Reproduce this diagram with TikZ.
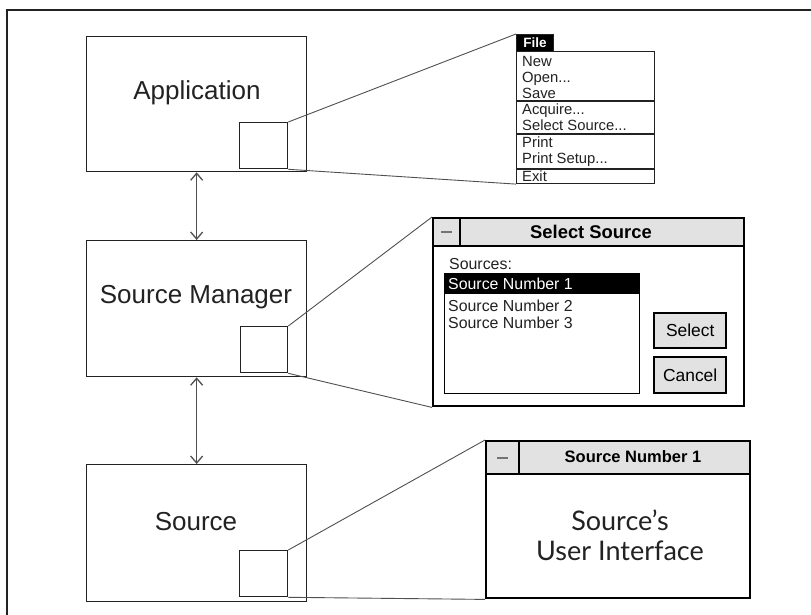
\documentclass[tikz,border=0pt]{standalone}
\usepackage{fontspec}
\setmainfont{Liberation Sans}
\newfontfamily\handfont{Lato}
\usetikzlibrary{arrows.meta}
\definecolor{barfill}{HTML}{E2E2E2}
\definecolor{linkgray}{HTML}{505050}
\definecolor{inkgray}{HTML}{222222}
\tikzset{
  blockbox/.style={draw=inkgray, line width=1.3pt, inner sep=0pt, anchor=north west},
  blocklabel/.style={font=\fontsize{26}{30}\selectfont, text=inkgray, inner sep=0pt},
  iconbox/.style={draw=inkgray, line width=1.3pt, inner sep=0pt, anchor=north west},
  link/.style={draw=linkgray, line width=0.9pt},
  dbl/.style={draw=linkgray, line width=1.2pt,
    {Straight Barb[length=7pt,width=12pt,line width=1.3pt]}-{Straight Barb[length=7pt,width=12pt,line width=1.3pt]}},
  menubox/.style={draw=inkgray, line width=1.1pt, inner sep=0pt, anchor=north west},
  menuitem/.style={font=\fontsize{14.8}{16}\selectfont, text=inkgray, anchor=base west, inner sep=0pt},
  winbox/.style={draw=black, line width=2.4pt, inner sep=0pt, anchor=north west},
  winbar/.style={draw=black, fill=barfill, line width=2.4pt, inner sep=0pt, anchor=north west},
  minusbox/.style={draw=black, fill=barfill, line width=2.4pt, inner sep=0pt, anchor=north west},
  minussign/.style={draw=black!55, line width=2pt},
  listbox/.style={draw=black, line width=1.4pt, inner sep=0pt, anchor=north west},
  btn/.style={draw=black, fill=barfill, line width=2.4pt, inner sep=0pt, anchor=north west,
    font=\fontsize{17.4}{20}\selectfont},
  listitem/.style={font=\fontsize{15.9}{18}\selectfont, anchor=base west, inner sep=0pt},
}
\begin{document}
\begin{tikzpicture}[x=1pt,y=-1pt]
\useasboundingbox (0,0) rectangle (811,614);
\clip (0,0) rectangle (811,614);
\fill[white] (0,0) rectangle (811,614);

% outer frame (runs past the right and bottom edges)
\draw[draw=inkgray, line width=1.5pt] (7,10) rectangle (840,650);

% ---- the three layers ----
\node[blockbox, minimum width=220pt, minimum height=135pt] (app) at (86,36) {};
\node[blocklabel] (applbl) at (197,93) {Application};
\node[iconbox, minimum width=48pt, minimum height=46pt] (appwin) at (239,122) {};

\node[blockbox, minimum width=220pt, minimum height=136pt] (sm) at (86,240) {};
\node[blocklabel] (smlbl) at (196,297) {Source Manager};
\node[iconbox, minimum width=47pt, minimum height=46pt] (smwin) at (240,326) {};

\node[blockbox, minimum width=220pt, minimum height=137pt] (src) at (86,464) {};
\node[blocklabel] (srclbl) at (196,522) {Source};
\node[iconbox, minimum width=48pt, minimum height=46pt] (srcwin) at (239,550) {};

\draw[dbl] (app.south) -- (sm.north);
\draw[dbl] (sm.south) -- (src.north);

% ---- File menu ----
\node[menubox, fill=black, minimum width=37pt, minimum height=17pt,
      font=\bfseries\fontsize{13.5}{15}\selectfont, text=white] (filehead) at (516,34) {File};
\node[menubox, minimum width=138pt, minimum height=132pt] (menu) at (516,51) {};
\draw[draw=inkgray, line width=1.1pt] (516,101) -- (654,101);
\draw[draw=inkgray, line width=1.1pt] (516,134) -- (654,134);
\draw[draw=inkgray, line width=1.1pt] (516,169) -- (654,169);
\node[menuitem] (mnew)   at (522,66)  {New};
\node[menuitem] (mopen)  at (522,82)  {Open...};
\node[menuitem] (msave)  at (522,98)  {Save};
\node[menuitem] (macq)   at (522,114) {Acquire...};
\node[menuitem] (msel)   at (522,130) {Select Source...};
\node[menuitem] (mprint) at (522,147) {Print};
\node[menuitem] (mpset)  at (522,163) {Print Setup...};
\node[menuitem] (mexit)  at (522,181) {Exit};

\draw[link] (appwin.north east) -- (filehead.north west);
\draw[link] (appwin.south east) -- (menu.south west);

% ---- Select Source dialog ----
\node[winbar, minimum width=311pt, minimum height=28pt] (dlgbar) at (432,217) {};
\node[minusbox, minimum width=27pt, minimum height=28pt] (dlgmin) at (432,217) {};
\draw[minussign] ([xshift=-5.5pt]dlgmin.center) -- ([xshift=5.5pt]dlgmin.center);
\node[winbox, minimum width=311pt, minimum height=188pt] (dlg) at (432,217) {};
\node[font=\bfseries\fontsize{18.4}{20}\selectfont, inner sep=0pt] (dlgtitle) at (591,232) {Select Source};
\node[listitem, text=inkgray] (srclist) at (449,269) {Sources:};
\node[listbox, minimum width=195pt, minimum height=120pt] (lst) at (444,273) {};
\node[listbox, fill=black, minimum width=195pt, minimum height=20pt] (lsthl) at (444,273) {};
\node[listitem, text=white] (item1) at (448,289) {Source Number 1};
\node[listitem, text=inkgray] (item2) at (448,311) {Source Number 2};
\node[listitem, text=inkgray] (item3) at (448,328) {Source Number 3};
\node[btn, minimum width=72pt, minimum height=35pt] (selbtn) at (653,312) {Select};
\node[btn, minimum width=72pt, minimum height=36pt] (canbtn) at (653,356) {Cancel};

\draw[link] (smwin.north east) -- (dlg.north west);
\draw[link] (smwin.south east) -- (dlg.south west);

% ---- Source window ----
\node[winbar, minimum width=264pt, minimum height=33pt] (uibar) at (485,440) {};
\node[minusbox, minimum width=33pt, minimum height=33pt] (uimin) at (485,440) {};
\draw[minussign] ([xshift=-5.5pt]uimin.center) -- ([xshift=5.5pt]uimin.center);
\node[winbox, minimum width=264pt, minimum height=157pt] (ui) at (485,440) {};
\node[font=\bfseries\fontsize{16.5}{18}\selectfont, inner sep=0pt] (uititle) at (633,457) {Source Number 1};
\node[font=\handfont\fontsize{27}{30}\selectfont, text=inkgray, align=center, inner sep=0pt]
  (uitext) at (620,535) {Source’s\\User Interface};

\draw[link] (srcwin.north east) -- (ui.north west);
\draw[link] (srcwin.south east) -- (ui.south west);
\end{tikzpicture}
\end{document}
